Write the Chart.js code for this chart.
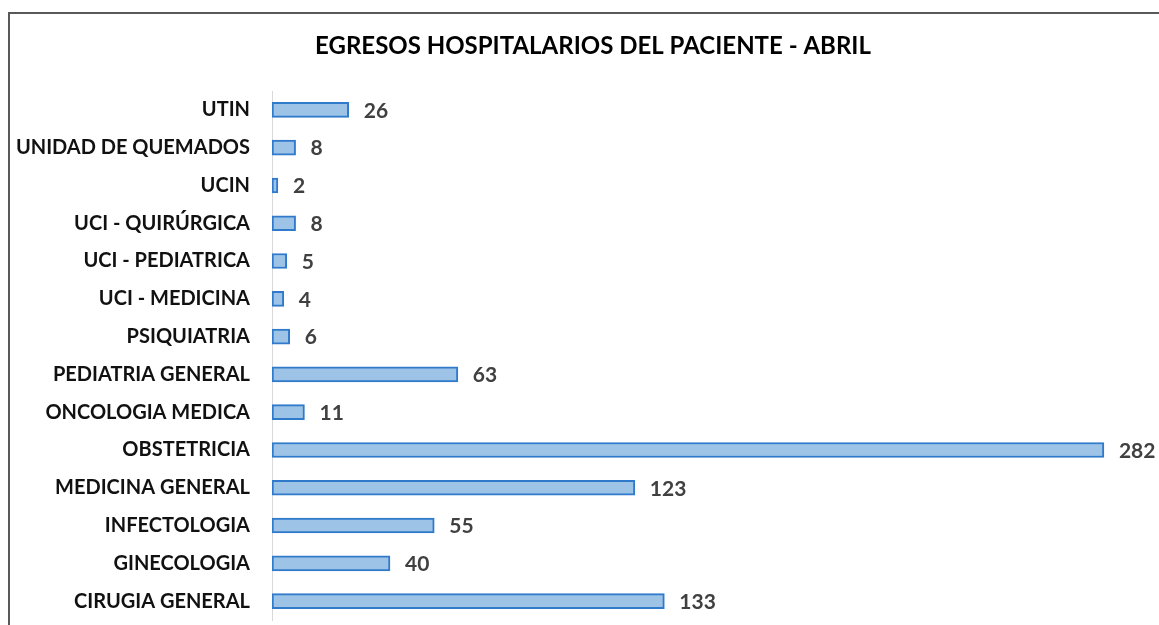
<!DOCTYPE html>
<html><head><meta charset="utf-8">
<script src="https://cdn.jsdelivr.net/npm/chart.js@4"></script>
<style>html,body{margin:0;padding:0;background:#fff;}#wrap{width:1159px;height:625px;position:relative;}</style>
</head><body><div id="wrap"><canvas id="c" width="1159" height="625"></canvas></div>
<script>
const categories = ["UTIN","UNIDAD DE QUEMADOS","UCIN","UCI - QUIRÚRGICA","UCI - PEDIATRICA","UCI - MEDICINA","PSIQUIATRIA","PEDIATRIA GENERAL","ONCOLOGIA MEDICA","OBSTETRICIA","MEDICINA GENERAL","INFECTOLOGIA","GINECOLOGIA","CIRUGIA GENERAL"];
const egresos = [26,8,2,8,5,4,6,63,11,282,123,55,40,133];
const titleText = "EGRESOS HOSPITALARIOS DEL PACIENTE - ABRIL";
const FONT = "Lato, 'Open Sans', sans-serif";

const frame = {
  id:'frame',
  beforeDraw(chart){
    const ctx = chart.ctx; ctx.save();
    ctx.strokeStyle = '#595959'; ctx.lineWidth = 2;
    ctx.beginPath(); ctx.moveTo(9,626); ctx.lineTo(9,13); ctx.lineTo(1160,13); ctx.stroke();
    ctx.font = "bold 24px " + FONT; ctx.fillStyle = '#000';
    ctx.textAlign = 'center'; ctx.textBaseline = 'middle';
    ctx.fillText(titleText, 593, 46);
    ctx.restore();
  }
};
const labels = {
  id:'vlabels',
  afterDatasetsDraw(chart){
    const ctx = chart.ctx; ctx.save();
    ctx.font = "bold 21px " + FONT; ctx.fillStyle = '#404040';
    ctx.textAlign = 'left'; ctx.textBaseline = 'middle';
    chart.getDatasetMeta(0).data.forEach((bar,i)=>{
      ctx.fillText(String(chart.data.datasets[0].data[i]), bar.x + 15, bar.y + 1);
    });
    ctx.restore();
  }
};

new Chart(document.getElementById('c'), {
  type:'bar',
  data:{labels:categories, datasets:[{data:egresos, backgroundColor:'#9DC3E6', borderColor:'#2F7ACB', borderWidth:2, barThickness:15, borderSkipped:false}]},
  options:{
    indexAxis:'y', responsive:false, animation:false,
    layout:{padding:{left:0,right:2,top:91,bottom:5}},
    plugins:{ legend:{display:false}, tooltip:{enabled:false}, title:{display:false} },
    scales:{
      x:{display:false, min:0, max:300},
      y:{
        afterFit(s){ s.width = 272; s.paddingTop = 0; s.paddingBottom = 0; },
        grid:{display:false, drawTicks:false},
        border:{display:true, color:'#d9d9d9', width:1},
        ticks:{color:'#111', padding:22, font:{family:FONT, size:20, weight:'bold'}}
      }
    }
  },
  plugins:[frame, labels]
});
</script></body></html>
